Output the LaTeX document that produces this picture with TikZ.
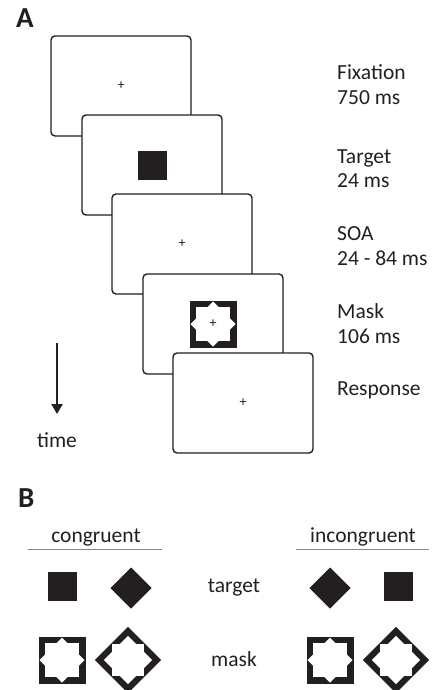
\documentclass[tikz,border=0pt]{standalone}
\usepackage{fontspec}
\setmainfont{Carlito}
\usetikzlibrary{arrows.meta,positioning}
\definecolor{ink}{RGB}{35,31,32}

\tikzset{
  screen/.style={draw=ink,line width=1.4pt,rounded corners=4pt,fill=white,
    minimum width=140pt,minimum height=100pt,inner sep=0pt},
  lbl/.style={anchor=base west,text=ink,inner sep=0pt,font=\fontsize{21.5}{25}\selectfont},
  head/.style={lbl,anchor=base},
  panel/.style={anchor=base west,text=ink,inner sep=0pt,font=\fontsize{29}{32}\selectfont\bfseries},
  fixcross/.style={text=ink,inner sep=0pt,font=\fontsize{14}{14}\selectfont},
  tgt/.style={fill=ink,minimum size=29pt,inner sep=0pt},
  rule/.style={draw=ink!55,line width=0.8pt},
  maskpic/.pic={
    \fill[ink] (-23.5,-23.5) rectangle (23.5,23.5);
    \fill[white] (-17,-17) rectangle (17,17);
    \fill[white] (0,-22.5) -- (22.5,0) -- (0,22.5) -- (-22.5,0) -- cycle;
  }
}

\begin{document}
\begin{tikzpicture}[x=1pt,y=-1pt,>={Triangle[width=11pt,length=10pt]}]
\useasboundingbox (0,0) rectangle (433,690);

% A: trial sequence
\node[panel] (pa) at (16,28) {A};

\node[screen] (f1) at (121,86) {};
\node[fixcross] (c1) at (f1.center) {+};
\node[screen] (f2) at (152,165) {};
\node[tgt] (sq) at (f2.center) {};
\node[screen] (f3) at (182,244) {};
\node[fixcross] (c3) at (f3.center) {+};
\node[screen] (f4) at (213,324) {};
\pic (mk) at (f4.center) {maskpic};
\node[fixcross] (c4) at (f4.center) {+};
\node[screen] (f5) at (243,403) {};
\node[fixcross] (c5) at (f5.center) {+};

\node[lbl] (l1) at (337,80) {Fixation};
\node[lbl] (l1b) at (337,105) {750 ms};
\node[lbl] (l2) at (337,163) {Target};
\node[lbl] (l2b) at (337,187) {24 ms};
\node[lbl] (l3) at (337,240) {SOA};
\node[lbl] (l3b) at (337,265) {24 - 84 ms};
\node[lbl] (l4) at (337,318) {Mask};
\node[lbl] (l4b) at (337,343) {106 ms};
\node[lbl] (l5) at (337,395) {Response};

\coordinate (t0) at (57,343);
\coordinate (t1) at (57,414);
\draw[->,ink,line width=2.2pt] (t0) -- (t1);
\node[head] (tm) at (57,447) {time};

% B: target/mask pairs
\node[panel] (pb) at (18,507) {B};

\node[head] (hc) at (96,542) {congruent};
\draw[rule] (28,549) -- (162,549);
\node[head] (hi) at (363,542) {incongruent};
\draw[rule] (296,549) -- (429,549);

\node[tgt] (cs) at (62,586) {};
\node[tgt,rotate=45] (cd) at (131,588) {};
\node[tgt,rotate=45] (id) at (330,588) {};
\node[tgt] (is) at (398,586) {};
\node[head] (rt) at (234,592) {target};

\pic (cm1) at (62,660) {maskpic};
\pic[rotate=45] (cm2) at (128,660) {maskpic};
\pic (im1) at (330,660) {maskpic};
\pic[rotate=45] (im2) at (396,660) {maskpic};
\node[head] (rm) at (234,666) {mask};
\end{tikzpicture}
\end{document}
